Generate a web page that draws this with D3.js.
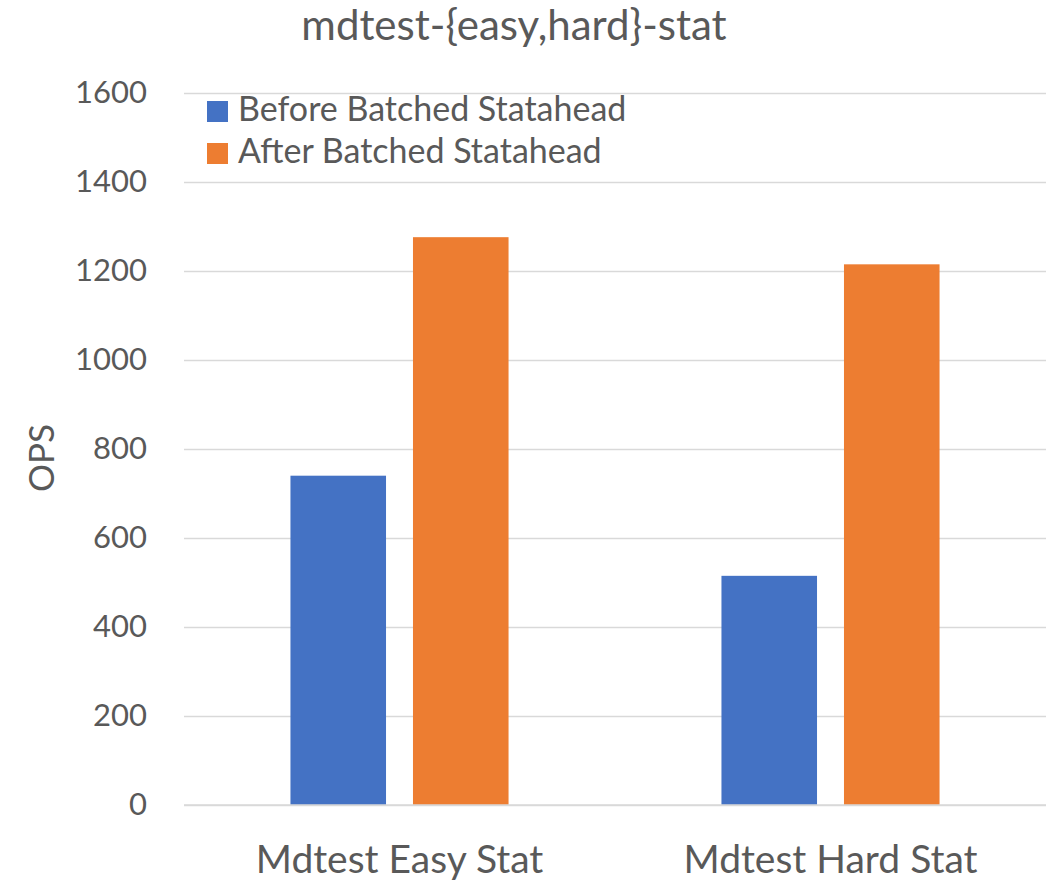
<!DOCTYPE html>
<html>
<head>
<meta charset="utf-8">
<script src="https://cdn.jsdelivr.net/npm/d3@7"></script>
<style>
  html, body { margin: 0; padding: 0; background: #ffffff; }
  svg { display: block; }
  text { font-family: Lato, "Open Sans", sans-serif; fill: #595959; }
</style>
</head>
<body>
<svg id="chart" width="1053" height="880"></svg>
<script>
// Benchmark results: stat operations per second
const categories = ["Mdtest Easy Stat", "Mdtest Hard Stat"];
const seriesNames = ["Before Batched Statahead", "After Batched Statahead"];
const beforeValues = [740, 515];
const afterValues = [1276, 1215];
const yTicks = [0, 200, 400, 600, 800, 1000, 1200, 1400, 1600];
const seriesColors = ["#4472C4", "#ED7D31"];

const svg = d3.select("#chart");
const plot = { left: 184, right: 1046, top: 93, bottom: 805 };

const x0 = d3.scaleBand()
  .domain(categories)
  .range([plot.left, plot.right])
  .paddingInner(0.494)
  .paddingOuter(0.247);

const x1 = d3.scaleBand()
  .domain(seriesNames)
  .range([0, x0.bandwidth()])
  .paddingInner(0.22)
  .paddingOuter(0);

const y = d3.scaleLinear()
  .domain([0, 1600])
  .range([plot.bottom, plot.top]);

const color = d3.scaleOrdinal().domain(seriesNames).range(seriesColors);

// Title
svg.append("text")
  .attr("x", 514)
  .attr("y", 40)
  .attr("text-anchor", "middle")
  .style("font-size", "42px")
  .text("mdtest-{easy,hard}-stat");

// Y axis with gridlines
const yAxis = svg.append("g")
  .attr("transform", `translate(${plot.left},0)`)
  .call(d3.axisLeft(y)
    .tickValues(yTicks)
    .tickFormat(d3.format("d"))
    .tickSizeInner(-(plot.right - plot.left))
    .tickSizeOuter(0)
    .tickPadding(37));
yAxis.select(".domain").remove();
yAxis.selectAll(".tick line")
  .attr("stroke", "#D9D9D9")
  .attr("stroke-width", 1.5);
yAxis.selectAll(".tick text")
  .style("font-size", "31px")
  .style("font-family", "Lato, 'Open Sans', sans-serif")
  .attr("fill", "#595959");

// Y axis title
svg.append("text")
  .attr("transform", "translate(54,458) rotate(-90)")
  .attr("text-anchor", "middle")
  .style("font-size", "35px")
  .text("OPS");

// Bars
const rows = categories.map((c, i) => ({
  category: c,
  values: [
    { series: seriesNames[0], value: beforeValues[i] },
    { series: seriesNames[1], value: afterValues[i] }
  ]
}));

svg.append("g")
  .selectAll("g")
  .data(rows)
  .join("g")
  .attr("transform", d => `translate(${x0(d.category)},0)`)
  .selectAll("rect")
  .data(d => d.values)
  .join("rect")
  .attr("x", d => x1(d.series))
  .attr("y", d => y(d.value))
  .attr("width", x1.bandwidth())
  .attr("height", d => y(0) - y(d.value))
  .attr("fill", d => color(d.series));

// X axis line and category labels
const xAxis = svg.append("g")
  .attr("transform", `translate(0,${plot.bottom})`)
  .call(d3.axisBottom(x0).tickSize(0).tickPadding(40));
xAxis.select(".domain").remove();
xAxis.selectAll(".tick text")
  .style("font-size", "39px")
  .style("font-family", "Lato, 'Open Sans', sans-serif")
  .attr("fill", "#595959");

svg.append("line")
  .attr("x1", plot.left).attr("x2", plot.right)
  .attr("y1", y(0)).attr("y2", y(0))
  .attr("stroke", "#D9D9D9")
  .attr("stroke-width", 1.5);

// Legend
const legend = svg.append("g")
  .selectAll("g")
  .data(seriesNames)
  .join("g")
  .attr("transform", (d, i) => `translate(207,${101 + i * 42})`);
legend.append("rect")
  .attr("width", 21)
  .attr("height", 21)
  .attr("fill", d => color(d));
legend.append("text")
  .attr("x", 31)
  .attr("y", 20)
  .style("font-size", "34px")
  .text(d => d);
</script>
</body>
</html>
